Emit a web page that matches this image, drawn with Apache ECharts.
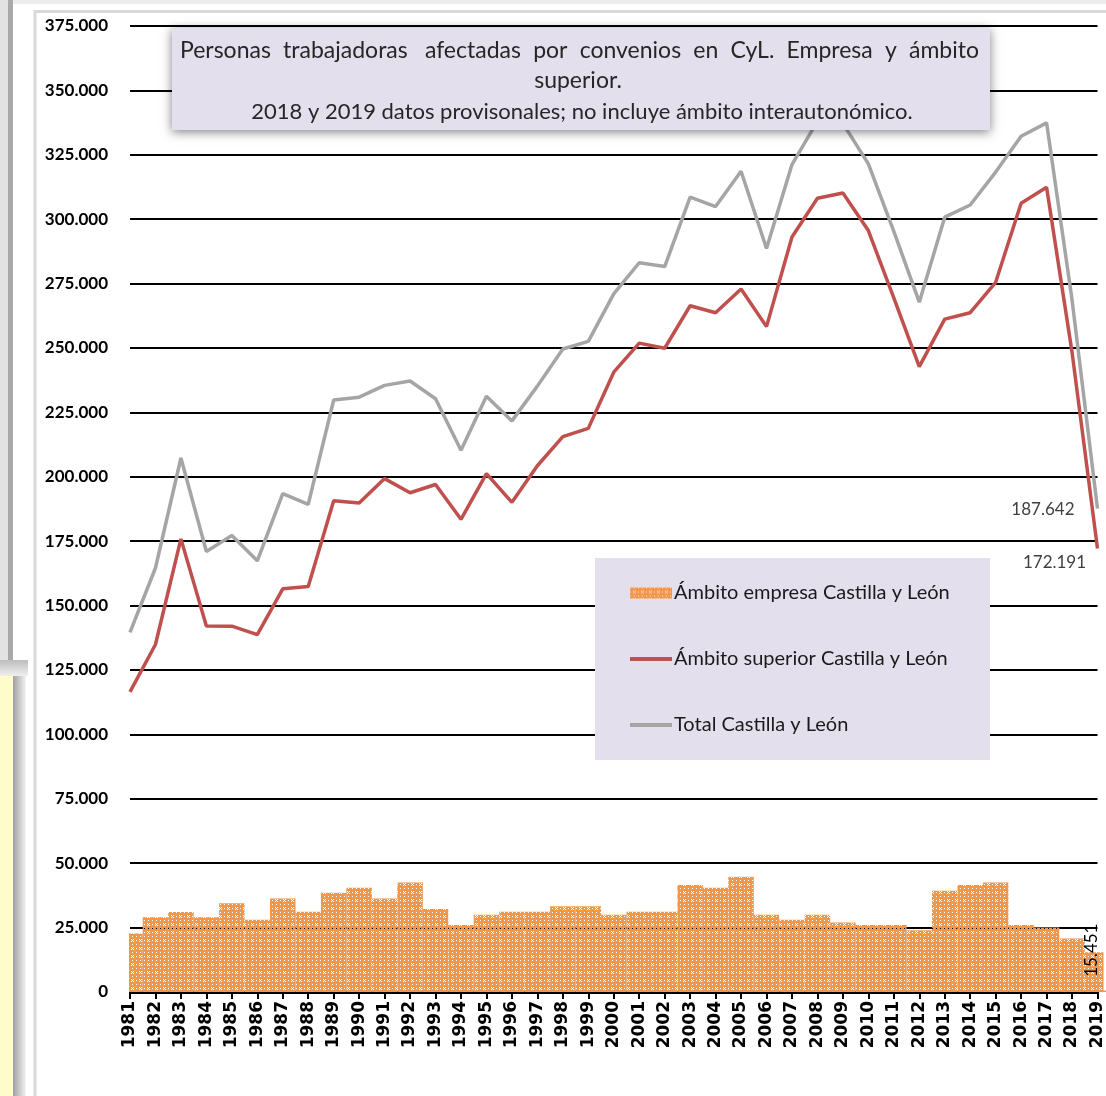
<!DOCTYPE html>
<html>
<head>
<meta charset="utf-8">
<script src="https://cdn.jsdelivr.net/npm/echarts@6/dist/echarts.min.js"></script>
<style>
html,body{margin:0;padding:0;background:#fff;}
#chart{width:1106px;height:1096px;}
</style>
</head>
<body>
<div id="chart"></div>
<script>
// ---------------- DATA ----------------
const years = ['1981','1982','1983','1984','1985','1986','1987','1988','1989','1990',
  '1991','1992','1993','1994','1995','1996','1997','1998','1999','2000',
  '2001','2002','2003','2004','2005','2006','2007','2008','2009','2010',
  '2011','2012','2013','2014','2015','2016','2017','2018','2019'];

const seriesNames = ['Ámbito empresa Castilla y León', 'Ámbito superior Castilla y León', 'Total Castilla y León'];

const empresa = [22750, 29000, 31100, 29000, 34500, 28000, 36300, 31200, 38500, 40500,
  36300, 42500, 32200, 26000, 30000, 31200, 31200, 33300, 33300, 30000,
  31200, 31200, 41500, 40500, 44700, 30000, 28000, 30000, 27000, 26000,
  26000, 24000, 39300, 41500, 42500, 26000, 25000, 20800, 15451];

const superior = [116500, 134900, 175900, 142100, 142000, 138700, 156500, 157400, 190700, 189800,
  199300, 193800, 197000, 183500, 201200, 190100, 204300, 215600, 218800, 240600,
  251900, 249900, 266400, 263700, 272900, 258300, 293100, 308100, 310200, 295600,
  269500, 242800, 261200, 263700, 275500, 306200, 312400, 248400, 172191];

const total = [139600, 164600, 207300, 171000, 177200, 167400, 193500, 189300, 229800, 230900,
  235500, 237200, 230300, 210300, 231300, 221700, 235200, 249600, 252600, 271000,
  283100, 281600, 308600, 304900, 318600, 288600, 321200, 338100, 337200, 321500,
  295300, 267800, 300800, 305500, 318300, 332200, 337400, 268700, 187642];

const titleLine1 = 'Personas trabajadoras  afectadas por convenios en CyL. Empresa y ámbito';
const titleLine2 = 'superior.';
const titleLine3 = '2018 y 2019 datos provisonales; no incluye ámbito interautonómico.';

// ---------------- HELPERS ----------------
function fmt(n) { return String(n).replace(/\B(?=(\d{3})+(?!\d))/g, '.'); }

function makePattern() {
  const c = document.createElement('canvas');
  c.width = 8; c.height = 8;
  const g = c.getContext('2d');
  g.fillStyle = '#F79646';
  g.fillRect(0, 0, 8, 8);
  const holes = [[0,0],[4,0],[0,4],[3,3],[5,3],[4,4],[3,5],[5,5]];
  holes.forEach(function (p) { g.clearRect(p[0], p[1], 1, 1); });
  return c;
}
const pattern = { image: makePattern(), repeat: 'repeat' };

const measureCtx = document.createElement('canvas').getContext('2d');
function textWidth(t, font) { measureCtx.font = font; return measureCtx.measureText(t).width; }

// justified first title line
const TITLE_FONT1 = '23px Lato';
const words = titleLine1.split(' ');
const wordWidths = words.map(function (w) { return w ? textWidth(w, TITLE_FONT1) : 0; });
const lineLeft = 180, lineRight = 979;
const nGaps = words.filter(function (w) { return w; }).length - 1;
const extraDouble = 5;
const gapW = (lineRight - lineLeft - extraDouble - wordWidths.reduce(function (a, b) { return a + b; }, 0)) / nGaps;
const titleWordEls = [];
let cx = lineLeft;
words.forEach(function (w, i) {
  if (w) {
    titleWordEls.push({
      type: 'text', z: 11, x: cx, y: 51,
      style: { text: w, font: TITLE_FONT1, fill: '#262626', align: 'left', verticalAlign: 'middle' }
    });
    cx += wordWidths[i] + gapW;
  } else {
    cx += extraDouble;
  }
});

// ---------------- CHART ----------------
const chart = echarts.init(document.getElementById('chart'), null, { renderer: 'canvas' });

const lastIdx = years.length - 1;
const lineIcon = 'path://M0,0 L42,0 L42,4 L0,4 Z';

const option = {
  animation: false,
  backgroundColor: '#ffffff',
  grid: { left: 130, right: 4, top: 26, bottom: 104, containLabel: false },
  xAxis: {
    type: 'category',
    data: years,
    boundaryGap: false,
    axisLine: { lineStyle: { color: '#000', width: 3 } },
    axisTick: { show: true, interval: 0, length: 7, lineStyle: { color: '#000', width: 2 } },
    axisLabel: {
      interval: 0, rotate: 90, margin: 9, color: '#000',
      fontFamily: 'DejaVu Sans', fontWeight: 'bold', fontSize: 17
    },
    splitLine: { show: false }
  },
  yAxis: {
    type: 'value', min: 0, max: 375000, interval: 25000,
    axisLine: { show: false },
    axisTick: { show: false },
    axisLabel: {
      margin: 22, color: '#000', fontFamily: 'Lato', fontWeight: 'bold', fontSize: 17,
      formatter: function (v) { return v === 0 ? '0' : fmt(v); }
    },
    splitLine: { lineStyle: { color: '#000', width: 2 } }
  },
  legend: {
    orient: 'vertical', left: 630, top: 583, padding: 0,
    itemGap: 46, itemWidth: 42, itemHeight: 11,
    textStyle: { fontFamily: 'Lato', fontSize: 20, color: '#1a1a1a', lineHeight: 20, padding: [0, 0, 0, -3] },
    data: [
      { name: seriesNames[0], icon: 'rect' },
      { name: seriesNames[1], icon: lineIcon },
      { name: seriesNames[2], icon: lineIcon }
    ]
  },
  series: [
    {
      name: seriesNames[0],
      type: 'bar',
      barWidth: '100%',
      z: 1,
      itemStyle: { color: pattern },
      data: empresa.map(function (v, i) {
        if (i !== lastIdx) return v;
        return {
          value: v,
          label: {
            show: true, rotate: 90, position: [7, -2], align: 'center', verticalAlign: 'middle',
            color: '#000', fontFamily: 'Lato', fontSize: 17,
            formatter: function (p) { return fmt(p.value); }
          }
        };
      })
    },
    {
      name: seriesNames[1],
      type: 'line',
      symbol: 'none',
      z: 3,
      lineStyle: { color: '#C0504D', width: 3.5 },
      itemStyle: { color: '#C0504D' },
      data: superior,
      endLabel: {
        show: true, distance: 0, align: 'center', verticalAlign: 'top', offset: [-43, 6],
        color: '#404040', fontFamily: 'Lato', fontSize: 17,
        formatter: function (p) { return fmt(p.value); }
      }
    },
    {
      name: seriesNames[2],
      type: 'line',
      symbol: 'none',
      z: 3,
      lineStyle: { color: '#A5A5A5', width: 3.5 },
      itemStyle: { color: '#A5A5A5' },
      data: total,
      endLabel: {
        show: true, distance: 0, align: 'right', verticalAlign: 'middle', offset: [-23, 1],
        color: '#404040', fontFamily: 'Lato', fontSize: 17,
        formatter: function (p) { return fmt(p.value); }
      }
    }
  ],
  graphic: [
    // window decorations
    { type: 'rect', z: 1, shape: { x: 0, y: 0, width: 1106, height: 4 }, style: { fill: '#ececec' } },
    { type: 'rect', z: 1, shape: { x: 0, y: 0, width: 8, height: 660 }, style: { fill: '#e2e2e2' } },
    { type: 'rect', z: 1, shape: { x: 8, y: 0, width: 5, height: 660 }, style: { fill: '#a9a9a9' } },
    { type: 'rect', z: 1, shape: { x: 0, y: 660, width: 28, height: 16 },
      style: { fill: new echarts.graphic.LinearGradient(0, 0, 0, 1, [{ offset: 0, color: '#bdbdbd' }, { offset: 1, color: '#f0f0f0' }]) } },
    { type: 'rect', z: 1, shape: { x: 0, y: 676, width: 13, height: 420 }, style: { fill: '#FFFCCB' } },
    { type: 'rect', z: 1, shape: { x: 13, y: 676, width: 13, height: 420 },
      style: { fill: new echarts.graphic.LinearGradient(0, 0, 1, 0, [{ offset: 0, color: '#a0a0a0' }, { offset: 1, color: '#f4f4f4' }]) } },
    { type: 'line', z: 1, shape: { x1: 35, y1: 10, x2: 35, y2: 1096 }, style: { stroke: '#d9d9d9', lineWidth: 3 } },
    { type: 'line', z: 1, shape: { x1: 35, y1: 11.5, x2: 1106, y2: 11.5 }, style: { stroke: '#d9d9d9', lineWidth: 3 } },
    // masks: trim the half-bars that overflow the plot area at both ends
    { type: 'rect', z: 2, shape: { x: 110, y: 800, width: 19, height: 194 }, style: { fill: '#ffffff' } },
    { type: 'rect', z: 2, shape: { x: 1103.5, y: 800, width: 10, height: 190.5 }, style: { fill: '#ffffff' } },
    // legend background
    { type: 'rect', z: 3, shape: { x: 595, y: 558, width: 395, height: 202 }, style: { fill: '#E4DFEC' } },
    // title box
    { type: 'rect', z: 10, shape: { x: 172, y: 28, width: 818, height: 102 },
      style: { fill: '#E4DFEC', shadowBlur: 10, shadowColor: 'rgba(0,0,0,0.5)', shadowOffsetX: 0, shadowOffsetY: 2 } }
  ].concat(titleWordEls).concat([
    { type: 'text', z: 11, x: 578, y: 81,
      style: { text: titleLine2, font: '23px Lato', fill: '#262626', align: 'center', verticalAlign: 'middle' } },
    { type: 'text', z: 11, x: 582, y: 112,
      style: { text: titleLine3, font: '22px Lato', fill: '#262626', align: 'center', verticalAlign: 'middle' } }
  ])
};

chart.setOption(option);
</script>
</body>
</html>
